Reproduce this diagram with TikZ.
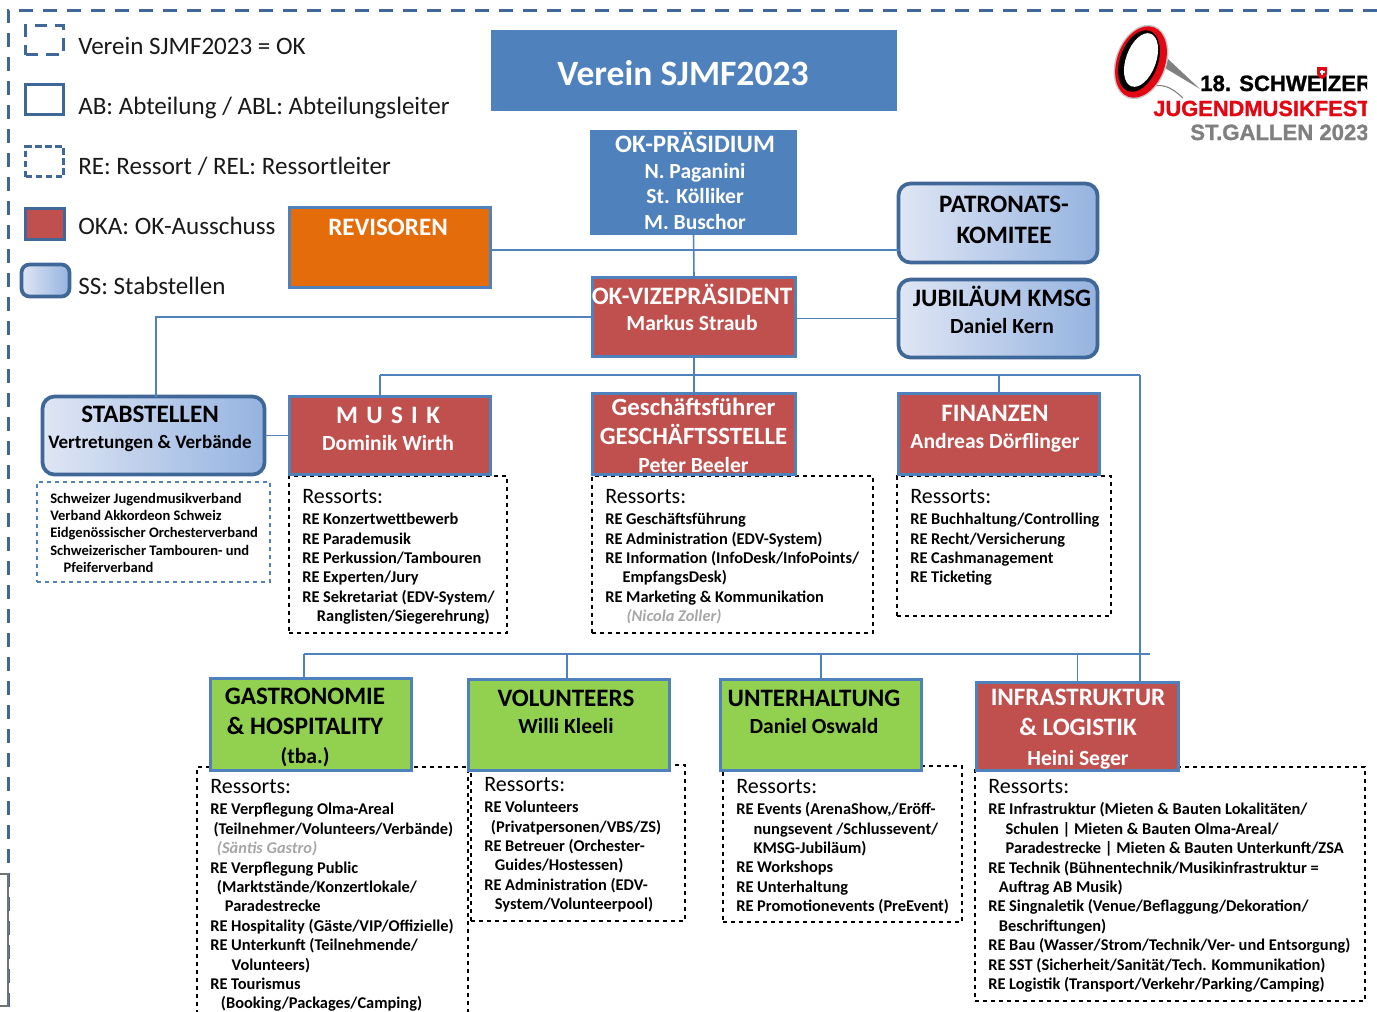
\documentclass[tikz,border=0pt]{standalone}
\usepackage{fontspec}
\setmainfont{Carlito}
\newfontfamily\logofont[BoldFeatures={FakeBold=1.2}]{Liberation Sans}
\definecolor{rahmen}{RGB}{63,103,151}
\definecolor{linie}{RGB}{79,129,189}
\definecolor{ssl}{RGB}{223,230,244}
\definecolor{ssr}{RGB}{149,179,224}
\definecolor{rot}{RGB}{192,80,77}
\definecolor{gruen}{RGB}{146,208,80}
\definecolor{orange}{RGB}{228,108,10}
\definecolor{logorot}{RGB}{227,6,19}
\tikzset{
  box/.style={draw=linie,line width=2.8pt,inner sep=0pt,outer sep=0pt},
  stabbox/.style={draw=rahmen,line width=2.8pt,left color=ssl,right color=ssr,rounded corners=9pt,inner sep=0pt,outer sep=0pt},
  ressbox/.style={draw=black,dashed,line width=1pt,inner sep=0pt,outer sep=0pt},
  conn/.style={draw=linie,line width=1.2pt},
  legicon/.style={draw=rahmen,line width=2.8pt,inner sep=0pt,outer sep=0pt},
  legtext/.style={anchor=west,inner sep=0pt,font=\fontsize{18.8}{22}\selectfont,text=black!90},
  headw/.style={align=center,text=white,font=\bfseries\fontsize{18.8}{22}\selectfont},
  headk/.style={align=center,text=black,font=\bfseries\fontsize{18.8}{22}\selectfont},
  namew/.style={headw,font=\bfseries\fontsize{16.2}{19}\selectfont},
  namek/.style={headk,font=\bfseries\fontsize{16.2}{19}\selectfont},
  reslist/.style={anchor=north west,align=left,inner sep=0pt,font=\bfseries\fontsize{12.3}{14.55}\selectfont},
}
\newcommand{\resshead}{{\fontsize{16.5}{15.5}\selectfont\mdseries Ressorts:}\\[1.5pt]}
\newcommand{\grosz}[1]{{\fontsize{18.8}{19}\selectfont #1}}
\newcommand{\klein}[1]{{\fontsize{16.2}{15}\selectfont #1}}
\newcommand{\grau}[1]{{\color{black!35}\itshape #1}}
\begin{document}
\begin{tikzpicture}[x=0.75pt,y=0.75pt,yscale=-1,xscale=1]
\clip (0,0) rectangle (1377,1011);

% outer frame and page margin marks
\draw [draw=rahmen,line width=2.25pt,dash pattern=on 10.5pt off 7.5pt] (1377,10) -- (8,10) -- (8,1011);
\draw [draw=black!55,line width=0.8pt] (0,874) -- (8,874) -- (8,1006) -- (0,1006);

% legend
\node (leg ok) [legicon,dash pattern=on 9.6pt off 6pt,minimum width=28.5pt,minimum height=21.75pt] at (44.5,40) {};
\node (leg ab) [legicon,minimum width=28.5pt,minimum height=22.5pt] at (44.5,99.5) {};
\node (leg re) [legicon,dash pattern=on 5pt off 2.5pt,minimum width=28.5pt,minimum height=22.5pt] at (44.5,161.5) {};
\node (leg oka) [legicon,fill=rot,minimum width=29.25pt,minimum height=23.25pt] at (45,224) {};
\node (leg ss) [stabbox,rounded corners=6pt,minimum width=36pt,minimum height=24pt] at (45.5,280.5) {};
\node (leg ok text) [legtext] at (78,46) {Verein SJMF2023 = OK};
\node (leg ab text) [legtext] at (78,107.5) {AB: Abteilung / ABL: Abteilungsleiter};
\node (leg re text) [legtext] at (78,166) {RE: Ressort / REL: Ressortleiter};
\node (leg oka text) [legtext] at (78,226) {OKA: OK-Ausschuss};
\node (leg ss text) [legtext] at (78,286) {SS: Stabstellen};

% upper boxes
\node (titel) [fill=linie,inner sep=0pt,minimum width=304.5pt,minimum height=60.75pt] at (694,70.5) {};
\node (praesidium) [box,fill=linie,minimum width=153pt,minimum height=76.5pt] at (693.5,182.5) {};
\node (patronat) [stabbox,minimum width=149.25pt,minimum height=59.25pt] at (998,223) {};
\node (jubilaeum) [stabbox,minimum width=149.25pt,minimum height=58.5pt] at (998,318.5) {};
\node (revisoren) [box,fill=orange,minimum width=150.75pt,minimum height=60pt] at (390,247.5) {};
\node (vize) [box,fill=rot,minimum width=152.25pt,minimum height=59.25pt] at (694,317) {};

% ressort lists
\node (stab list) [draw=linie,dashed,line width=1pt,inner sep=0pt,minimum width=174.75pt,minimum height=75pt] at (153.5,532) {};
\node (musik list) [ressbox,minimum width=163.5pt,minimum height=117.75pt] at (398,554.5) {};
\node (gs list) [ressbox,minimum width=210.75pt,minimum height=117.75pt] at (732.5,554.5) {};
\node (fin list) [ressbox,minimum width=160.5pt,minimum height=105pt] at (1004,546) {};
\node (gastro list) [ressbox,minimum width=203.25pt,minimum height=197.25pt] at (332.5,898.5) {};
\node (vol list) [ressbox,minimum width=160.5pt,minimum height=117pt] at (578,843) {};
\node (unt list) [ressbox,minimum width=179.25pt,minimum height=117pt] at (842.5,844) {};
\node (infra list) [ressbox,minimum width=292.5pt,minimum height=175.5pt] at (1170,884) {};

% middle and lower boxes
\node (stab) [stabbox,minimum width=166.5pt,minimum height=58.5pt] at (153.5,435.5) {};
\node (musik) [box,fill=rot,minimum width=150.75pt,minimum height=58.5pt] at (390,435.5) {};
\node (gs) [box,fill=rot,minimum width=152.25pt,minimum height=60.75pt] at (694,434) {};
\node (finanzen) [box,fill=rot,minimum width=150.75pt,minimum height=60.75pt] at (999,434) {};
\node (gastro) [box,fill=gruen,minimum width=150.75pt,minimum height=69pt] at (311,724.5) {};
\node (volunteers) [box,fill=gruen,minimum width=150.75pt,minimum height=68.25pt] at (569,725) {};
\node (unterhaltung) [box,fill=gruen,minimum width=150.75pt,minimum height=68.25pt] at (821,725) {};
\node (infra) [box,fill=rot,minimum width=151.5pt,minimum height=66pt] at (1077.5,726.5) {};

% connectors
\coordinate (achse) at (492,250);
\coordinate (fach links) at (380,375);
\coordinate (fach rechts) at (1140,375);
\coordinate (unten links) at (304,654);
\coordinate (unten rechts) at (1150,654);
\draw [conn] (praesidium.south) -- (vize.north);
\draw [conn] (revisoren.east |- achse) -- (patronat.west |- achse);
\draw [conn] (vize.west) -| ([xshift=1.9pt]stab.north);
\draw [conn] (vize.east |- jubilaeum.west) -- (jubilaeum.west);
\draw [conn] (vize.south) -- (gs.north);
\draw [conn] (fach links) -- (fach rechts);
\draw [conn] (fach links) -- (fach links |- musik.north);
\draw [conn] (finanzen.north |- fach links) -- (finanzen.north);
\draw [conn] (fach rechts) -- (fach rechts |- infra.north);
\draw [conn] (stab.east) -- (musik.west);
\draw [conn] (unten links) -- (unten rechts);
\draw [conn] (unten links) -- (unten links |- gastro.north);
\draw [conn] ([xshift=-1.5pt]volunteers.north |- unten links) -- ([xshift=-1.5pt]volunteers.north);
\draw [conn] (unterhaltung.north |- unten links) -- (unterhaltung.north);
\draw [conn] (infra.north |- unten links) -- (infra.north);

% labels
\node (titel text) [headw,font=\bfseries\fontsize{26.7}{30}\selectfont] at (683,73) {Verein SJMF2023};
\node (praesidium text) [headw,font=\bfseries\fontsize{16.2}{19.3}\selectfont] at (695,181) {\grosz{OK-PRÄSIDIUM}\\N. Paganini\\St. Kölliker\\M. Buschor};
\node (patronat text) [headk] at (1004,220) {PATRONATS-\\[0.8pt]KOMITEE};
\node (jubilaeum text) [namek] at (1002,310) {\grosz{JUBILÄUM KMSG}\\[1pt]Daniel Kern};
\node (revisoren text) [headw] at (388,227) {REVISOREN};
\node (vize text) [namew] at (692,307.5) {\grosz{OK-VIZEPRÄSIDENT}\\[1pt]Markus Straub};
\node (stab text) [namek,font=\bfseries\fontsize{14.3}{18}\selectfont] at (150,429) {\grosz{STABSTELLEN}\\[1.5pt]Vertretungen \& Verbände};
\node (musik text) [namew] at (388,429) {\grosz{M\,\,U\,\,S\,\,I\,\,K}\\[1pt]Dominik Wirth};
\node (gs text) [headw,font=\bfseries\fontsize{18.6}{21.6}\selectfont] at (693.5,435.5) {Geschäftsführer\\GESCHÄFTSSTELLE\\\klein{Peter Beeler}};
\node (finanzen text) [namew] at (995,429) {\grosz{FINANZEN}\\[1pt]Andreas Dörflinger};
\node (gastro text) [headk] at (305,727.5) {GASTRONOMIE\\[0.6pt]\&\ HOSPITALITY\\\klein{(tba.)}};
\node (volunteers text) [namek] at (566,712) {\grosz{VOLUNTEERS}\\[1pt]Willi Kleeli};
\node (unterhaltung text) [namek] at (814,712) {\grosz{UNTERHALTUNG}\\[1pt]Daniel Oswald};
\node (infra text) [headw] at (1078,729) {INFRASTRUKTUR\\[0.6pt]\&\ LOGISTIK\\\klein{Heini Seger}};

% list texts
\node (stab list text) [reslist,font=\bfseries\fontsize{10.9}{12.9}\selectfont] at (50,493) {Schweizer Jugendmusikverband\\Verband Akkordeon Schweiz\\Eidgenössischer Orchesterverband\\Schweizerischer Tambouren- und\\\hspace*{10pt}Pfeiferverband};
\node (musik list text) [reslist] at (302,489) {\resshead RE Konzertwettbewerb\\RE Parademusik\\RE Perkussion/Tambouren\\RE Experten/Jury\\RE Sekretariat (EDV-System/\\\hspace*{11pt}Ranglisten/Siegerehrung)};
\node (gs list text) [reslist] at (605,489) {\resshead RE Geschäftsführung\\RE Administration (EDV-System)\\RE Information (InfoDesk/InfoPoints/\\\hspace*{13pt}EmpfangsDesk)\\RE Marketing \& Kommunikation\\\hspace*{16pt}\grau{(Nicola Zoller)}};
\node (fin list text) [reslist] at (910,489) {\resshead RE Buchhaltung/Controlling\\RE Recht/Versicherung\\RE Cashmanagement\\RE Ticketing};
\node (gastro list text) [reslist] at (210,779) {\resshead RE Verpflegung Olma-Areal\\\hspace*{2.5pt}(Teilnehmer/Volunteers/Verbände)\\\hspace*{5pt}\grau{(Säntis Gastro)}\\RE Verpflegung Public\\\hspace*{5pt}(Marktstände/Konzertlokale/\\\hspace*{11pt}Paradestrecke\\RE Hospitality (Gäste/VIP/Offizielle)\\RE Unterkunft (Teilnehmende/\\\hspace*{16pt}Volunteers)\\RE Tourismus\\\hspace*{8pt}(Booking/Packages/Camping)};
\node (vol list text) [reslist] at (484,777) {\resshead RE Volunteers\\\hspace*{5pt}(Privatpersonen/VBS/ZS)\\RE Betreuer (Orchester-\\\hspace*{8pt}Guides/Hostessen)\\RE Administration (EDV-\\\hspace*{8pt}System/Volunteerpool)};
\node (unt list text) [reslist] at (736,779) {\resshead RE Events (ArenaShow,/Eröff-\\\hspace*{13pt}nungsevent /Schlussevent/\\\hspace*{13pt}KMSG-Jubiläum)\\RE Workshops\\RE Unterhaltung\\RE Promotionevents (PreEvent)};
\node (infra list text) [reslist] at (988,779) {\resshead RE Infrastruktur (Mieten \& Bauten Lokalitäten/\\\hspace*{13pt}Schulen | Mieten \& Bauten Olma-Areal/\\\hspace*{13pt}Paradestrecke | Mieten \& Bauten Unterkunft/ZSA\\RE Technik (Bühnentechnik/Musikinfrastruktur =\\\hspace*{8pt}Auftrag AB Musik)\\RE Singnaletik (Venue/Beflaggung/Dekoration/\\\hspace*{8pt}Beschriftungen)\\RE Bau (Wasser/Strom/Technik/Ver- und Entsorgung)\\RE SST (Sicherheit/Sanität/Tech. Kommunikation)\\RE Logistik (Transport/Verkehr/Parking/Camping)};

% logo
\begin{scope}
\clip (1100,20) rectangle (1367,150);
\fill [black!50] (1168,59) -- (1200,89) -- (1165,68) -- cycle;
\draw [black!50,line width=0.8pt] (1153,86) .. controls (1165,84) and (1172,88) .. (1183,98);
\fill [black!22,rotate around={20:(1141,62)}] (1141,62) ellipse [x radius=25.5,y radius=38.5];
\fill [logorot,rotate around={20:(1141,62)}] (1141,62) ellipse [x radius=24,y radius=37];
\fill [black,rotate around={20:(1139,61)}] (1139,61) ellipse [x radius=19,y radius=32];
\fill [white,rotate around={20:(1141,60)}] (1141,60) ellipse [x radius=15,y radius=28];
\node (logo a) [anchor=base west,inner sep=0pt,text=black,font=\logofont\bfseries\fontsize{16.6}{17}\selectfont] at (1200,91) {18. SCHWEIZER};
\node (logo b) [anchor=base west,inner sep=0pt,text=logorot,font=\logofont\bfseries\fontsize{16.4}{17}\selectfont] at (1153,116) {JUGENDMUSIKFEST};
\node (logo c) [anchor=base west,inner sep=0pt,text=black!50,font=\logofont\bfseries\fontsize{16.6}{17}\selectfont] at (1190,140) {ST.GALLEN 2023};
\fill [logorot] (1317,67) -- (1327,67) -- (1327,73) .. controls (1327,76) .. (1322,79) .. controls (1317,76) .. (1317,73) -- cycle;
\fill [white] (1321,69.5) rectangle (1323,75);
\fill [white] (1319.5,71) rectangle (1324.5,73);
\end{scope}
\end{tikzpicture}
\end{document}
